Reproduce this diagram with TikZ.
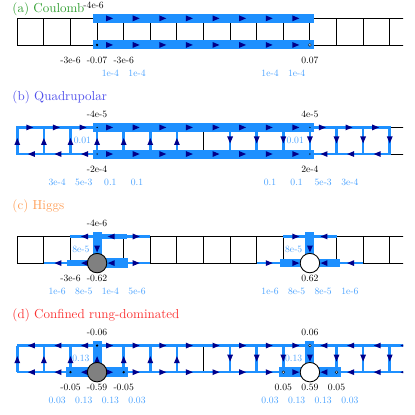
\documentclass[tikz,border=0pt]{standalone}
\definecolor{flowblue}{RGB}{30,144,255}
\definecolor{arrowblue}{RGB}{0,0,139}
\definecolor{valblue}{RGB}{70,160,255}
\definecolor{titlegreen}{RGB}{50,160,50}
\definecolor{titleblue}{RGB}{80,80,235}
\definecolor{titleorange}{RGB}{255,160,90}
\definecolor{titlered}{RGB}{250,50,50}

% arrow head on a link: x, y, angle
\newcommand{\flowarrow}[3]{%
  \fill[arrowblue,shift={(#1,#2)},rotate=#3] (0.1,0) -- (-0.16,0.11) -- (-0.16,-0.11) -- cycle;}

\begin{document}
\begin{tikzpicture}
[x=0.64cm,y=0.64cm,
 lattice/.style={black,line width=0.6pt},
 thin flow/.style={flowblue,line width=1.7pt},
 thick flow/.style={flowblue,line width=6.2pt,line cap=rect},
 charge/.style={circle,draw=black,line width=0.6pt,inner sep=0pt,minimum size=0.73*0.64cm},
 value/.style={font=\normalsize,scale=0.66,inner sep=0pt},
 flux/.style={value,text=valblue},
 title/.style={font=\normalsize,scale=0.89,anchor=west,inner sep=0pt}]
\useasboundingbox (-0.65,-14.91) rectangle (14.95,0.69);

\begin{scope}
\clip (-1,1) rectangle (14.5,-15);
% ladders
\foreach \p in {0,-4.1,-8.2,-12.3}
{
  \draw[lattice] (0,\p) -- (15,\p) (0,\p-1) -- (15,\p-1);
  \foreach \x in {0,...,15}
    \draw[lattice] (\x,\p) -- (\x,\p-1);
}

% (a)
\draw[thick flow] (3,0) -- (11,0);
\draw[thick flow] (3,-1) -- (11,-1);
\foreach \x in {3.5,4.5,...,10.5}
{
  \flowarrow{\x}{0}{0}
  \flowarrow{\x}{-1}{0}
}

% (b)
\draw[thin flow] (3,-4.1) -- (0,-4.1) -- (0,-5.1) -- (3,-5.1);
\draw[thin flow] (11,-4.1) -- (14,-4.1) -- (14,-5.1) -- (11,-5.1);
\foreach \x in {1,...,6,8,9,...,13}
  \draw[thin flow] (\x,-4.1) -- (\x,-5.1);
\draw[thick flow] (3,-4.1) -- (11,-4.1);
\draw[thick flow] (3,-5.1) -- (11,-5.1);
\foreach \x in {0.5,1.5,...,13.5}
  {\flowarrow{\x}{-4.1}{0}}
\foreach \x in {0.5,1.5,2.5,11.5,12.5,13.5}
  {\flowarrow{\x}{-5.1}{180}}
\foreach \x in {3.5,4.5,...,10.5}
  {\flowarrow{\x}{-5.1}{0}}
\foreach \x in {0,...,6}
  {\flowarrow{\x}{-4.6}{90}}
\foreach \x in {8,...,14}
  {\flowarrow{\x}{-4.6}{-90}}

% (c)
\draw[thin flow] (2,-8.2) -- (5,-8.2);
\draw[thin flow] (1,-9.2) -- (5,-9.2);
\draw[flowblue,line width=3.9pt,line cap=rect] (3,-8.2) -- (4,-8.2);
\draw[flowblue,line width=4.6pt,line cap=rect] (2,-9.2) -- (3,-9.2);
\draw[flowblue,line width=6.4pt,line cap=rect] (3,-9.2) -- (4,-9.2);
\draw[thick flow] (3,-8.2) -- (3,-9.2);
\draw[thin flow] (9,-9.2) -- (13,-9.2);
\draw[flowblue,line width=2.7pt] (10,-8.2) -- (12,-8.2);
\draw[flowblue,line width=5pt,line cap=rect] (10,-9.2) -- (12,-9.2);
\draw[thick flow] (11,-8.2) -- (11,-9.2);
\foreach \x/\a in {2.5/180,3.5/180,4.5/0,10.5/0,11.5/180}
  {\flowarrow{\x}{-8.2}{\a}}
\foreach \x/\a in {1.5/180,2.5/180,3.5/180,4.5/0,9.5/0,10.5/0,11.5/180,12.5/180}
  {\flowarrow{\x}{-9.2}{\a}}
\flowarrow{3}{-8.7}{-90}
\flowarrow{11}{-8.7}{-90}

% (d)
\draw[thin flow] (0,-12.3) -- (15,-12.3);
\draw[thin flow] (0,-13.3) -- (15,-13.3);
\foreach \x in {0,1,2,4,5,6,8,9,10,12,13,14,15}
  \draw[thin flow] (\x,-12.3) -- (\x,-13.3);
\draw[flowblue,line width=6.5pt,line cap=rect] (2,-13.3) -- (4,-13.3);
\draw[flowblue,line width=6.5pt,line cap=rect] (10,-13.3) -- (12,-13.3);
\draw[thick flow] (3,-12.3) -- (3,-13.3);
\draw[thick flow] (11,-12.3) -- (11,-13.3);
\foreach \x in {0.5,1.5,2.5,11.5,12.5,13.5,14.5}
{
  \flowarrow{\x}{-12.3}{180}
  \flowarrow{\x}{-13.3}{180}
}
\foreach \x in {3.5,4.5,...,10.5}
{
  \flowarrow{\x}{-12.3}{0}
  \flowarrow{\x}{-13.3}{0}
}
\foreach \x in {0,...,6}
  {\flowarrow{\x}{-12.8}{90}}
\foreach \x in {8,...,15}
  {\flowarrow{\x}{-12.8}{-90}}
\end{scope}

% charges
\fill (3,-1) circle (0.9pt);
\filldraw[fill=white,draw=black,line width=0.3pt] (11,-1) circle (1pt);
\foreach \x in {3,11}
  \fill (\x,-4.1) circle (0.5pt) (\x,-5.1) circle (0.5pt);
\node[charge,fill=gray] (qc3) at (3,-9.2) {};
\node[charge,fill=white] (qc11) at (11,-9.2) {};
\fill (3,-12.3) circle (0.9pt) (2,-13.3) circle (0.9pt) (4,-13.3) circle (0.9pt);
\filldraw[fill=white,draw=black,line width=0.3pt]
  (11,-12.3) circle (0.9pt) (10,-13.3) circle (0.9pt) (12,-13.3) circle (0.9pt);
\node[charge,fill=gray] (qd3) at (3,-13.3) {};
\node[charge,fill=white] (qd11) at (11,-13.3) {};

% titles
\node[title,text=titlegreen] (ta) at (-0.19,0.35) {(a) Coulomb};
\node[title,text=titleblue] (tb) at (-0.19,-2.97) {(b) Quadrupolar};
\node[title,text=titleorange] (tc) at (-0.19,-7.07) {(c) Higgs};
\node[title,text=titlered] (td) at (-0.19,-11.17) {(d) Confined rung-dominated};

% values (a)
\node[value] (va) at (2.87,0.5) {-4e-6};
\foreach \x/\t in {2/-3e-6,3/-0.07,4/-3e-6,11/0.07}
  \node[value] (va\x) at (\x,-1.58) {\t};
\foreach \x/\t in {3.5/1e-4,4.5/1e-4,9.5/1e-4,10.5/1e-4}
  \node[flux] (fa\x) at (\x,-2.07) {\t};

% values (b)
\node[value] (vb3t) at (3,-3.59) {-4e-5};
\node[value] (vb11t) at (11,-3.59) {4e-5};
\node[value] (vb3) at (3,-5.68) {-2e-4};
\node[value] (vb11) at (11,-5.68) {2e-4};
\node[flux,anchor=east] (rb3) at (2.78,-4.6) {0.01};
\node[flux,anchor=east] (rb11) at (10.78,-4.6) {0.01};
\foreach \x/\t in {1.5/3e-4,2.5/5e-3,3.5/0.1,4.5/0.1,9.5/0.1,10.5/0.1,11.5/5e-3,12.5/3e-4}
  \node[flux] (fb\x) at (\x,-6.17) {\t};

% values (c)
\node[value] (vc3t) at (3,-7.69) {-4e-6};
\node[value] (vc2) at (2,-9.78) {-3e-6};
\node[value] (vc3) at (3,-9.78) {-0.62};
\node[value] (vc11) at (11,-9.78) {0.62};
\node[flux,anchor=east] (rc3) at (2.72,-8.7) {8e-5};
\node[flux,anchor=east] (rc11) at (10.72,-8.7) {8e-5};
\foreach \x/\t in {1.5/1e-6,2.5/8e-5,3.5/1e-4,4.5/5e-6,9.5/1e-6,10.5/8e-5,11.5/8e-5,12.5/1e-6}
  \node[flux] (fc\x) at (\x,-10.27) {\t};

% values (d)
\node[value] (vd3t) at (3,-11.79) {-0.06};
\node[value] (vd11t) at (11,-11.79) {0.06};
\foreach \x/\t in {2/-0.05,3/-0.59,4/-0.05,10/0.05,11/0.59,12/0.05}
  \node[value] (vd\x) at (\x,-13.88) {\t};
\node[flux,anchor=east] (rd3) at (2.72,-12.8) {0.13};
\node[flux,anchor=east] (rd11) at (10.72,-12.8) {0.13};
\foreach \x/\t in {1.5/0.03,2.5/0.13,3.5/0.13,4.5/0.03,9.5/0.03,10.5/0.13,11.5/0.13,12.5/0.03}
  \node[flux] (fd\x) at (\x,-14.37) {\t};
\end{tikzpicture}
\end{document}
